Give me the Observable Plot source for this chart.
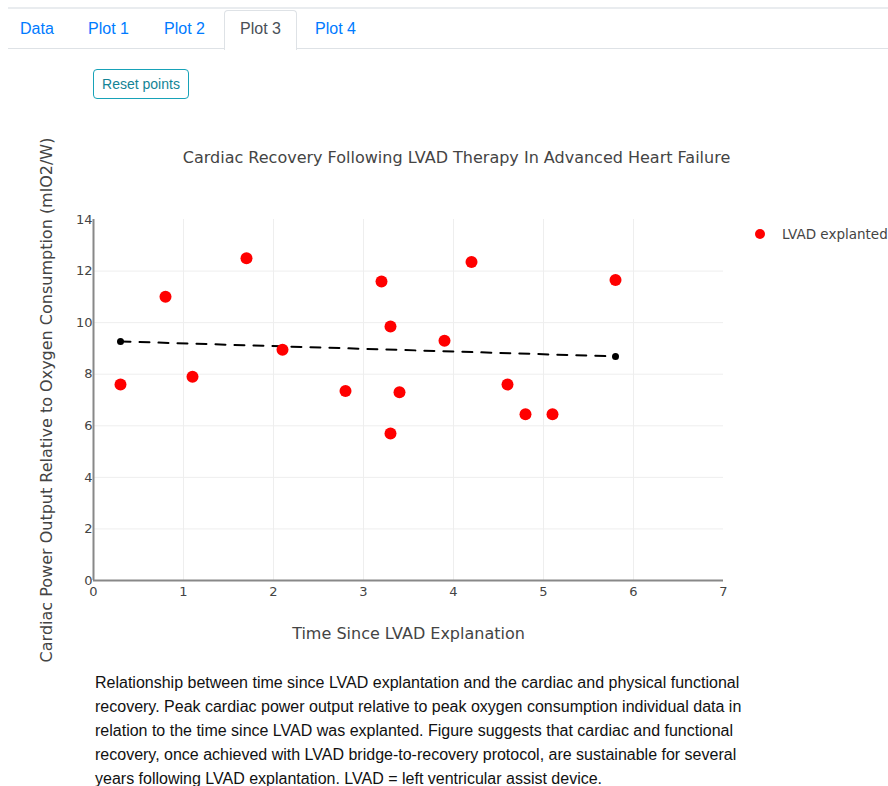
<!DOCTYPE html>
<html>
<head>
<meta charset="utf-8">
<script src="https://cdn.jsdelivr.net/npm/d3@7"></script>
<script src="https://cdn.jsdelivr.net/npm/@observablehq/plot@0.6"></script>
<style>
  html, body { margin: 0; padding: 0; background: #fff; width: 888px; height: 786px; overflow: hidden; position: relative; }
  .topline { position: absolute; left: 8px; right: 0; top: 7px; height: 2px; background: #e9ecef; }
  .tabline { position: absolute; left: 8px; right: 0; top: 48px; height: 1px; background: #dee2e6; }
  .tab { position: absolute; top: 20px; font-family: "Liberation Sans", Arial, sans-serif; font-size: 16px; color: #007bff; }
  .tab.active { color: #495057; }
  .activebox { position: absolute; left: 224px; top: 10px; width: 71px; height: 39px; border: 1px solid #dee2e6; border-bottom: none; background: #fff; border-radius: 4px 4px 0 0; }
  .btn { position: absolute; left: 93px; top: 69px; width: 94px; height: 28px; border: 1px solid #17a2b8; border-radius: 4px; font-family: "Liberation Sans", Arial, sans-serif; font-size: 14px; color: #138496; line-height: 28px; text-align: center; box-sizing: content-box; }
  #chart { position: absolute; left: 0; top: 110px; }
  .legend { position: absolute; left: 755px; top: 226px; font-family: "DejaVu Sans", Verdana, sans-serif; font-size: 13.5px; color: #444; white-space: nowrap; }
  .legend .dot { display: inline-block; width: 10px; height: 10px; border-radius: 50%; background: #ff0000; margin-right: 17px; vertical-align: middle; position: relative; top: -1px; }
  .caption { position: absolute; left: 95px; top: 671px; font-family: "Liberation Sans", Arial, sans-serif; font-size: 16px; line-height: 24px; color: #111; white-space: nowrap; }
</style>
</head>
<body>
<div class="topline"></div>
<div class="tabline"></div>
<div class="activebox"></div>
<div id="tabs"></div>
<div class="btn">Reset points</div>
<div id="chart"></div>
<div class="legend"><span class="dot"></span>LVAD explanted</div>
<div class="caption" id="caption"></div>
<script>
// ---- data ----
const tabNames = ["Data", "Plot 1", "Plot 2", "Plot 3", "Plot 4"];
const tabX = [20, 88, 164, 240, 315];
const timeSince = [0.3, 0.8, 1.1, 1.7, 2.1, 2.8, 3.2, 3.3, 3.3, 3.4, 3.9, 4.2, 4.6, 4.8, 5.1, 5.8];
const cpoRatio  = [7.6, 11.0, 7.9, 12.5, 8.95, 7.35, 11.6, 9.85, 5.7, 7.3, 9.3, 12.35, 7.6, 6.45, 6.45, 11.65];
const trendX = [0.3, 5.8];
const trendY = [9.27, 8.69];
const xTicks = [0, 1, 2, 3, 4, 5, 6, 7];
const yTicks = [0, 2, 4, 6, 8, 10, 12, 14];
const xGrid = [1, 2, 3, 4, 5, 6];
const yGrid = [2, 4, 6, 8, 10, 12];
const chartTitle = "Cardiac Recovery Following LVAD Therapy In Advanced Heart Failure";
const xLabel = "Time Since LVAD Explanation";
const yLabel = "Cardiac Power Output Relative to Oxygen Consumption (mlO2/W)";
const captionLines = [
  "Relationship between time since LVAD explantation and the cardiac and physical functional",
  "recovery. Peak cardiac power output relative to peak oxygen consumption individual data in",
  "relation to the time since LVAD was explanted. Figure suggests that cardiac and functional",
  "recovery, once achieved with LVAD bridge-to-recovery protocol, are sustainable for several",
  "years following LVAD explantation. LVAD = left ventricular assist device."
];

// ---- tabs & caption ----
const tabsEl = document.getElementById("tabs");
tabNames.forEach((t, i) => {
  const d = document.createElement("div");
  d.className = "tab" + (t === "Plot 3" ? " active" : "");
  d.style.left = tabX[i] + "px";
  d.textContent = t;
  tabsEl.appendChild(d);
});
document.getElementById("caption").innerHTML = captionLines.join("<br>");

// ---- chart ----
const points = timeSince.map((x, i) => ({x, y: cpoRatio[i]}));
const trend = trendX.map((x, i) => ({x, y: trendY[i]}));

const chart = Plot.plot({
  width: 888,
  height: 550,
  marginLeft: 93,
  marginRight: 165,
  marginTop: 109,
  marginBottom: 80,
  style: {fontFamily: "'DejaVu Sans', Verdana, sans-serif", fontSize: "12px", color: "#444", background: "transparent", overflow: "visible"},
  x: {domain: [0, 7]},
  y: {domain: [0, 14]},
  marks: [
    Plot.gridX(xGrid, {stroke: "#eee", strokeOpacity: 1, strokeWidth: 1}),
    Plot.gridY(yGrid, {stroke: "#eee", strokeOpacity: 1, strokeWidth: 1}),
    Plot.axisX(xTicks, {tickSize: 0, tickPadding: 6, label: null, fill: "#444", fontSize: 13}),
    Plot.axisY(yTicks, {tickSize: 0, tickPadding: 1, label: null, fill: "#444", fontSize: 13}),
    Plot.ruleX([0], {stroke: "#888", strokeWidth: 2}),
    Plot.ruleY([0], {stroke: "#888", strokeWidth: 2}),
    Plot.line(trend, {x: "x", y: "y", stroke: "#000", strokeWidth: 2, strokeDasharray: "10,9"}),
    Plot.dot(trend, {x: "x", y: "y", r: 3.5, fill: "#000", stroke: "none"}),
    Plot.dot(points, {x: "x", y: "y", r: 6, fill: "#ff0000", stroke: "none"}),
    Plot.text([chartTitle], {frameAnchor: "top", lineAnchor: "middle", textAnchor: "middle", dx: 48, dy: -62, fontSize: 16, fill: "#444"}),
    Plot.text([xLabel], {frameAnchor: "bottom", lineAnchor: "middle", textAnchor: "middle", dy: 53, fontSize: 16, fill: "#444"}),
    Plot.text([yLabel], {frameAnchor: "left", lineAnchor: "middle", textAnchor: "middle", dx: -47, rotate: -90, fontSize: 16, fill: "#444"})
  ]
});
document.getElementById("chart").appendChild(chart);
</script>
</body>
</html>
